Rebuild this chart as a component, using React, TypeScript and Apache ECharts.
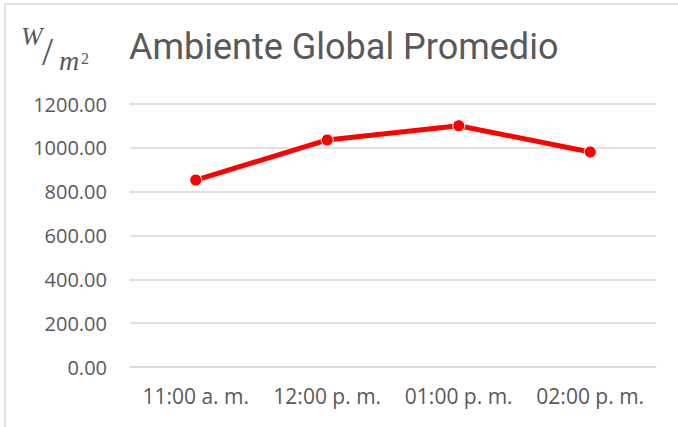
import React, { useEffect, useRef } from "react";
import * as echarts from "echarts";

const categories = ["11:00 a. m.", "12:00 p. m.", "01:00 p. m.", "02:00 p. m."];
const values = [853, 1036, 1101, 981];
const title = "Ambiente Global Promedio";

export default function App() {
  const ref = useRef<HTMLDivElement>(null);
  useEffect(() => {
    const chart = echarts.init(ref.current!, null, { renderer: "svg" });
    const font = "Open Sans";
    const serif = "'Liberation Serif'";
    chart.setOption({
      animation: false,
      backgroundColor: "#fff",
      grid: { left: 130, right: 22, top: 104, bottom: 60 },
      title: {
        text: title,
        left: 124,
        top: 24,
        textStyle: { fontFamily: "Roboto", fontSize: 36, fontWeight: "normal", color: "#595959" },
      },
      graphic: [
        { type: "rect", shape: { x: 5, y: 4, width: 800, height: 600 }, style: { fill: "none", stroke: "#d9d9d9", lineWidth: 1.5 }, silent: true },
        { type: "text", x: 21, y: 23, style: { text: "W", font: `italic 26px ${serif}`, fill: "#595959" } },
        { type: "text", x: 42, y: 31, style: { text: "/", font: `40px ${serif}`, fill: "#595959" } },
        { type: "text", x: 59, y: 46, style: { text: "m", font: `italic 28px ${serif}`, fill: "#595959" } },
        { type: "text", x: 81, y: 50, style: { text: "2", font: `16px ${serif}`, fill: "#595959" } },
      ],
      xAxis: {
        type: "category",
        data: categories,
        boundaryGap: true,
        axisLine: { show: true, lineStyle: { color: "#d9d9d9", width: 1.5 } },
        axisTick: { show: false },
        axisLabel: { color: "#595959", fontFamily: font, fontSize: 21, margin: 18, interval: 0, hideOverlap: false },
      },
      yAxis: {
        type: "value",
        min: 0,
        max: 1200,
        interval: 200,
        axisLine: { show: false },
        axisTick: { show: false },
        splitLine: { lineStyle: { color: "#d9d9d9", width: 1.5 } },
        axisLabel: {
          color: "#595959",
          fontFamily: font,
          fontSize: 20,
          margin: 23,
          formatter: (v: number) => v.toFixed(2),
        },
      },
      series: [
        {
          type: "line",
          data: values,
          symbol: "circle",
          symbolSize: 12,
          lineStyle: { color: "#ff0000", width: 5 },
          itemStyle: { color: "#ff0000", borderColor: "#fff", borderWidth: 1 },
        },
      ],
    });
    return () => chart.dispose();
  }, []);
  return (
    <div
      ref={ref}
      style={{ position: "fixed", left: 0, top: 0, width: 678, height: 427 }}
    />
  );
}
